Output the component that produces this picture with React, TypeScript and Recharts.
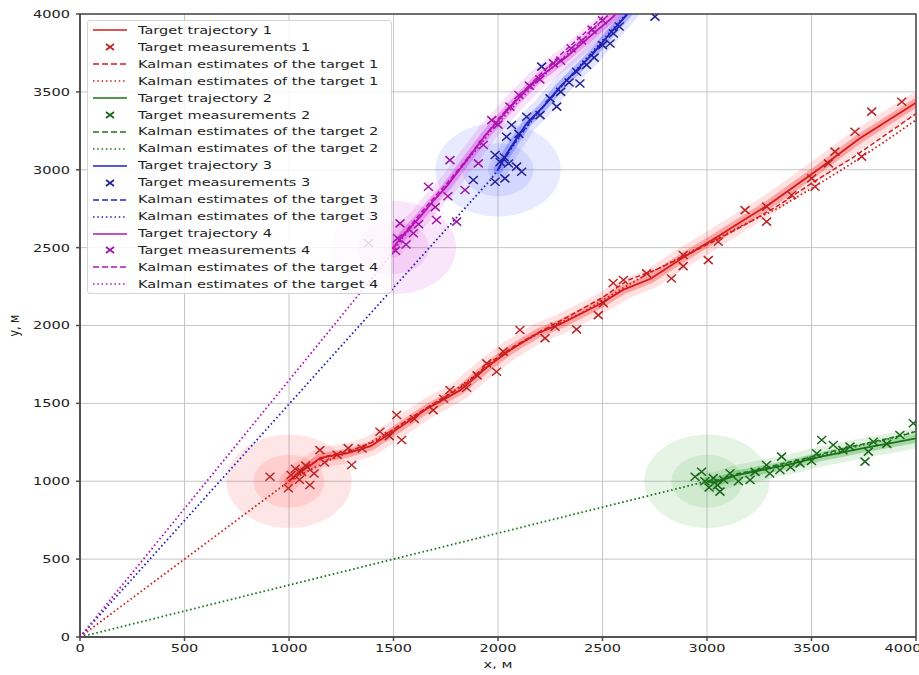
import React from 'react';
import { ScatterChart, Scatter, XAxis, YAxis, CartesianGrid, ReferenceArea, Label } from 'recharts';

type Pt = [number, number];

const xTicks = [0, 500, 1000, 1500, 2000, 2500, 3000, 3500, 4000];
const yTicks = [0, 500, 1000, 1500, 2000, 2500, 3000, 3500, 4000];

// target 1 (red)
const trajectory1: Pt[] = [[1000, 1000], [1040, 1050], [1100, 1100], [1150, 1150], [1280, 1180], [1390, 1225], [1500, 1320], [1660, 1465], [1820, 1585], [1950, 1735], [2060, 1845], [2190, 1950], [2300, 2010], [2490, 2140], [2600, 2230], [2730, 2300], [2890, 2440], [3050, 2570], [3180, 2680], [3300, 2780], [3540, 3010], [3730, 3200], [4000, 3430]];
const measurements1: Pt[] = [[909, 1029], [997, 955], [1010, 1040], [1030, 1080], [1050, 1010], [1060, 1060], [1080, 1100], [1100, 976], [1120, 1050], [1148, 1200], [1170, 1120], [1230, 1170], [1283, 1213], [1300, 1104], [1350, 1210], [1435, 1318], [1480, 1290], [1515, 1425], [1539, 1265], [1600, 1400], [1690, 1457], [1740, 1530], [1770, 1586], [1850, 1600], [1900, 1680], [1946, 1757], [1993, 1703], [2025, 1832], [2105, 1971], [2225, 1919], [2273, 1992], [2376, 1975], [2480, 2067], [2504, 2144], [2551, 2273], [2600, 2292], [2711, 2335], [2830, 2302], [2886, 2453], [2886, 2381], [3006, 2420], [3054, 2538], [3182, 2741], [3285, 2763], [3285, 2667], [3405, 2838], [3501, 2945], [3517, 2891], [3581, 3041], [3612, 3116], [3740, 3084], [3708, 3244], [3788, 3373], [3932, 3437]];
const kalmanDashed1: Pt[] = [[1000, 1000], [1060, 1080], [1180, 1160], [1300, 1200], [1420, 1260], [1540, 1370], [1680, 1490], [1830, 1610], [1960, 1760], [2080, 1870], [2200, 1960], [2340, 2060], [2500, 2180], [2620, 2290], [2760, 2360], [2900, 2450], [3060, 2560], [3200, 2660], [3340, 2770], [3520, 2930], [3700, 3080], [3850, 3220], [4000, 3360]];
const kalmanDotted1: Pt[] = [[0, 0], [1000, 1000], [1040, 1030], [1200, 1140], [1350, 1220], [1500, 1330], [1650, 1460], [1800, 1590], [1950, 1740], [2100, 1880], [2250, 1990], [2400, 2080], [2560, 2210], [2700, 2320], [2860, 2430], [3020, 2540], [3180, 2650], [3350, 2760], [3500, 2880], [3680, 3030], [3850, 3180], [4000, 3320]];

// target 2 (green)
const trajectory2: Pt[] = [[3000, 1000], [3030, 990], [3100, 1020], [3142, 1040], [3220, 1060], [3301, 1083], [3400, 1110], [3477, 1136], [3550, 1160], [3620, 1178], [3700, 1200], [3780, 1221], [3880, 1245], [4000, 1275]];
const measurements2: Pt[] = [[2943, 1029], [2974, 1061], [2990, 1000], [3010, 960], [3030, 1020], [3050, 975], [3062, 933], [3080, 1010], [3110, 1051], [3150, 1000], [3206, 1008], [3230, 1060], [3285, 1104], [3300, 1050], [3349, 1072], [3357, 1158], [3400, 1090], [3445, 1115], [3500, 1130], [3525, 1178], [3549, 1265], [3604, 1233], [3650, 1200], [3684, 1222], [3756, 1126], [3772, 1190], [3796, 1254], [3860, 1240], [3923, 1297], [3987, 1372]];
const kalmanDashed2: Pt[] = [[3000, 1000], [3060, 1010], [3150, 1050], [3250, 1075], [3350, 1110], [3450, 1140], [3550, 1175], [3650, 1210], [3750, 1240], [3850, 1270], [3950, 1300], [4000, 1320]];
const kalmanDotted2: Pt[] = [[0, 0], [3000, 1000], [3040, 1000], [3120, 1030], [3220, 1065], [3320, 1095], [3420, 1125], [3520, 1155], [3620, 1190], [3720, 1225], [3820, 1255], [3920, 1290], [4000, 1320]];

// target 3 (blue)
const trajectory3: Pt[] = [[2000, 3000], [2026, 3063], [2050, 3120], [2074, 3170], [2137, 3298], [2217, 3405], [2297, 3533], [2376, 3640], [2456, 3747], [2536, 3875], [2615, 3993], [2640, 4040]];
const measurements3: Pt[] = [[1882, 2934], [1986, 2923], [2033, 2945], [2089, 3020], [2113, 2987], [1986, 3095], [2010, 3050], [2030, 3080], [2050, 3040], [2041, 3212], [2065, 3287], [2100, 3230], [2137, 3340], [2201, 3351], [2249, 3458], [2281, 3405], [2209, 3662], [2300, 3500], [2340, 3560], [2392, 3554], [2376, 3629], [2424, 3673], [2460, 3720], [2500, 3800], [2536, 3811], [2552, 3875], [2580, 3920], [2751, 3983]];
const kalmanDashed3: Pt[] = [[2000, 3000], [2040, 3100], [2100, 3210], [2160, 3320], [2240, 3440], [2320, 3560], [2400, 3670], [2480, 3790], [2560, 3910], [2630, 4020]];
const kalmanDotted3: Pt[] = [[0, 0], [1962, 2933], [2000, 3000], [2060, 3130], [2130, 3260], [2200, 3380], [2280, 3500], [2360, 3620], [2440, 3740], [2520, 3860], [2600, 3980], [2630, 4030]];

// target 4 (magenta)
const trajectory4: Pt[] = [[1500, 2500], [1515, 2528], [1560, 2600], [1627, 2698], [1690, 2800], [1754, 2891], [1850, 3062], [1946, 3233], [2074, 3426], [2201, 3598], [2329, 3726], [2456, 3875], [2552, 3983], [2580, 4030]];
const measurements4: Pt[] = [[1380, 2528], [1510, 2480], [1520, 2560], [1531, 2656], [1560, 2520], [1595, 2592], [1620, 2650], [1667, 2891], [1706, 2677], [1700, 2760], [1760, 2830], [1770, 3062], [1802, 2667], [1842, 2870], [1906, 3041], [1930, 3159], [1970, 3319], [2000, 3290], [2057, 3405], [2100, 3480], [2150, 3540], [2200, 3580], [2265, 3683], [2300, 3700], [2350, 3780], [2400, 3830], [2450, 3900], [2500, 3960]];
const kalmanDashed4: Pt[] = [[1500, 2500], [1550, 2590], [1610, 2690], [1680, 2800], [1760, 2920], [1840, 3050], [1920, 3190], [2010, 3340], [2100, 3470], [2200, 3610], [2300, 3740], [2400, 3860], [2500, 3980], [2530, 4030]];
const kalmanDotted4: Pt[] = [[0, 0], [1507, 2484], [1530, 2540], [1590, 2640], [1660, 2750], [1730, 2860], [1810, 2990], [1890, 3120], [1980, 3270], [2070, 3400], [2170, 3540], [2270, 3670], [2380, 3800], [2480, 3930], [2540, 4010]];

const startPoints: Pt[] = [[1000, 1000], [3000, 1000], [2000, 3000], [1500, 2500]];
const covRadii = [300, 170]; // m

const lineColors = ['#d41c1c', '#1a741a', '#2222bb', '#b414b4'];
const markColors = ['#b82424', '#186418', '#202094', '#9c14a4'];
const bandColors = ['#ff1818', '#1c9c1c', '#2c3cff', '#d018d0'];

const W = 919;
const H = 675;
const MARGIN = { top: 14, right: 3, bottom: 2, left: 0 };
const Y_AXIS_W = 80;
const X_AXIS_H = 36;
const PLOT_W = W - MARGIN.left - MARGIN.right - Y_AXIS_W;
const PLOT_H = H - MARGIN.top - MARGIN.bottom - X_AXIS_H;
const STRETCH = 1.32;
const FONT = 'DejaVu Sans, sans-serif';

const toXY = (pts: Pt[]) => pts.map(([x, y]) => ({ x, y }));

const Hidden = () => <g />;

const makeCross = (color: string) => (p: any) => {
  const { cx, cy } = p;
  if (cx == null || cy == null) return <g />;
  const sx = 4.5;
  const sy = 4;
  return (
    <path
      d={`M${cx - sx} ${cy - sy}L${cx + sx} ${cy + sy}M${cx - sx} ${cy + sy}L${cx + sx} ${cy - sy}`}
      stroke={color}
      strokeWidth={1.5}
      fill="none"
    />
  );
};

const makeEllipse = (color: string) => (p: any) => {
  const { cx, cy, payload } = p;
  const r = payload.r;
  return (
    <ellipse
      cx={cx}
      cy={cy}
      rx={(r * PLOT_W) / 4000}
      ry={(r * PLOT_H) / 4000}
      fill={color}
      fillOpacity={0.11}
    />
  );
};

const XTick = (p: any) => {
  const { x, y, payload } = p;
  return (
    <text transform={`translate(${x},${y}) scale(${STRETCH},1)`} textAnchor="middle" dy="0.75em" fontSize={11} fontFamily={FONT} fill="#222">
      {payload.value}
    </text>
  );
};

const YTick = (p: any) => {
  const { x, y, payload } = p;
  return (
    <text transform={`translate(${x},${y}) scale(${STRETCH},1)`} textAnchor="end" dy="0.36em" fontSize={11} fontFamily={FONT} fill="#222">
      {payload.value}
    </text>
  );
};

const targets = [
  { traj: trajectory1, meas: measurements1, dashed: kalmanDashed1, dotted: kalmanDotted1 },
  { traj: trajectory2, meas: measurements2, dashed: kalmanDashed2, dotted: kalmanDotted2 },
  { traj: trajectory3, meas: measurements3, dashed: kalmanDashed3, dotted: kalmanDotted3 },
  { traj: trajectory4, meas: measurements4, dashed: kalmanDashed4, dotted: kalmanDotted4 },
];

const legendKinds = ['Target trajectory', 'Target measurements', 'Kalman estimates of the target', 'Kalman estimates of the target'];

const LegendBox = () => {
  const rows: React.ReactNode[] = [];
  targets.forEach((_, ti) => {
    legendKinds.forEach((label, k) => {
      const c = k === 1 ? markColors[ti] : lineColors[ti];
      let handle: React.ReactNode;
      if (k === 1) {
        handle = <path d="M13 2L21 8M13 8L21 2" stroke={c} strokeWidth={1.7} />;
      } else {
        const dash = k === 0 ? undefined : k === 2 ? '6 3' : '1.5 2.8';
        handle = <line x1={0} y1={5} x2={34} y2={5} stroke={c} strokeWidth={1.7} strokeDasharray={dash} />;
      }
      rows.push(
        <div key={`${ti}-${k}`} style={{ height: 16.93, display: 'flex', alignItems: 'center', position: 'relative' }}>
          <svg width={34} height={10} style={{ position: 'absolute', left: 5 }}>{handle}</svg>
          <span
            style={{
              position: 'absolute',
              left: 50,
              fontFamily: FONT,
              fontSize: 11,
              color: '#1e1e1e',
              whiteSpace: 'nowrap',
              transform: `scaleX(${STRETCH})`,
              transformOrigin: 'left center',
            }}
          >
            {`${label} ${ti + 1}`}
          </span>
        </div>
      );
    });
  });
  return (
    <div
      style={{
        position: 'absolute',
        left: 87,
        top: 20,
        width: 305,
        height: 274,
        boxSizing: 'border-box',
        paddingTop: 1,
        background: 'rgba(255,255,255,0.82)',
        border: '1px solid #d4d4d4',
        borderRadius: 3,
      }}
    >
      {rows}
    </div>
  );
};

const App = () => {
  return (
    <div style={{ position: 'absolute', left: 0, top: 0, width: W, height: H, background: '#fff' }}>
      <ScatterChart width={W} height={H} margin={MARGIN}>
        <CartesianGrid stroke="#c6c6c6" strokeWidth={1} />
        <XAxis
          type="number"
          dataKey="x"
          domain={[0, 4000]}
          ticks={xTicks}
          allowDataOverflow
          height={X_AXIS_H}
          tickSize={4}
          tickMargin={3}
          tick={<XTick />}
          stroke="#4a4a4a"
          strokeWidth={1.5}
        >
          <Label
            content={(props: any) => {
              const vb = props.viewBox;
              const cx = vb.x + vb.width / 2;
              return (
                <text transform={`translate(${cx},${vb.y + 31}) scale(${STRETCH},1)`} textAnchor="middle" fontSize={11} fontFamily={FONT} fill="#222">
                  x, м
                </text>
              );
            }}
          />
        </XAxis>
        <YAxis
          type="number"
          dataKey="y"
          domain={[0, 4000]}
          ticks={yTicks}
          allowDataOverflow
          width={Y_AXIS_W}
          tickSize={4}
          tickMargin={6}
          tick={<YTick />}
          stroke="#4a4a4a"
          strokeWidth={1.5}
        >
          <Label
            content={(props: any) => {
              const vb = props.viewBox;
              const cy = vb.y + vb.height / 2;
              const cx = vb.x + 19;
              return (
                <text transform={`translate(${cx},${cy}) rotate(-90) scale(1,${STRETCH})`} textAnchor="middle" fontSize={11} fontFamily={FONT} fill="#222">
                  y, м
                </text>
              );
            }}
          />
        </YAxis>

        {/* covariance ellipses at the start and uncertainty band along the track */}
        {targets.map((t, i) => (
          <Scatter
            key={`ell-${i}`}
            data={covRadii.map((r) => ({ x: startPoints[i][0], y: startPoints[i][1], r }))}
            shape={makeEllipse(bandColors[i])}
            isAnimationActive={false}
          />
        ))}
        {targets.map((t, i) => (
          <Scatter
            key={`band-${i}`}
            data={toXY(t.traj)}
            line={{ stroke: bandColors[i], strokeWidth: 20, strokeOpacity: 0.13, strokeLinecap: 'round', strokeLinejoin: 'round' }}
            lineType="joint"
            shape={Hidden}
            isAnimationActive={false}
          />
        ))}
        {targets.map((t, i) => (
          <Scatter
            key={`band2-${i}`}
            data={toXY(t.traj)}
            line={{ stroke: bandColors[i], strokeWidth: 9, strokeOpacity: 0.3, strokeLinecap: 'round', strokeLinejoin: 'round' }}
            lineType="joint"
            shape={Hidden}
            isAnimationActive={false}
          />
        ))}

        {targets.flatMap((t, i) => [
          <Scatter
            key={`traj-${i}`}
            data={toXY(t.traj)}
            line={{ stroke: lineColors[i], strokeWidth: 1.8 }}
            lineType="joint"
            shape={Hidden}
            isAnimationActive={false}
          />,
          <Scatter key={`meas-${i}`} data={toXY(t.meas)} shape={makeCross(markColors[i])} isAnimationActive={false} />,
          <Scatter
            key={`dash-${i}`}
            data={toXY(t.dashed)}
            line={{ stroke: lineColors[i], strokeWidth: 1.5, strokeDasharray: '5 2.5' }}
            lineType="joint"
            shape={Hidden}
            isAnimationActive={false}
          />,
          <Scatter
            key={`dot-${i}`}
            data={toXY(t.dotted)}
            line={{ stroke: lineColors[i], strokeWidth: 1.8, strokeDasharray: '1.6 2.6' }}
            lineType="joint"
            shape={Hidden}
            isAnimationActive={false}
          />,
        ])}

        <ReferenceArea x1={0} x2={4000} y1={0} y2={4000} fill="none" stroke="#4a4a4a" strokeWidth={1.5} />
      </ScatterChart>
      <LegendBox />
    </div>
  );
};

export default App;
